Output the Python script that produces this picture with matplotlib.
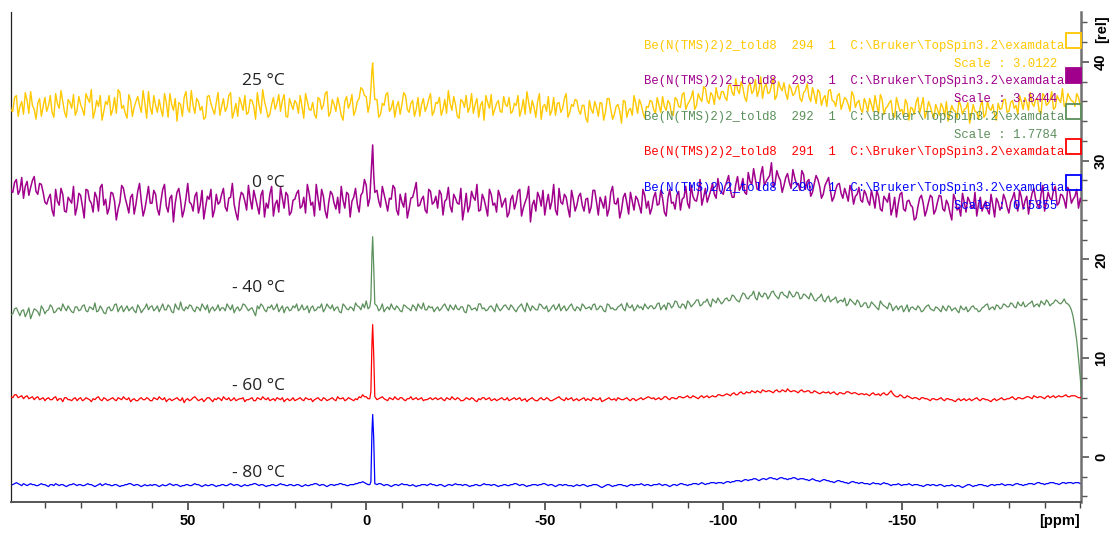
import numpy as np
import matplotlib
matplotlib.use("Agg")
import matplotlib.pyplot as plt
from matplotlib.ticker import MultipleLocator, FixedLocator, FixedFormatter
from matplotlib.patches import Rectangle
from matplotlib.font_manager import FontProperties

# ---------------- data ----------------
# chemical shift grid (ppm): whole ppm from 100 down to -201, plus half-ppm points 99.5 .. -200.5
ppm_start, ppm_stop = 100, -201

# intensities in tenths of the [rel] axis unit at whole-ppm points
yellow_25C = [
    362, 350, 366, 355, 347, 361, 370, 352, 358, 345, 364, 356, 349, 368, 353, 360, 344, 359, 367, 351,
    357, 346, 363, 372, 350, 355, 341, 360, 366, 352, 348, 369, 356, 343, 361, 354, 365, 349, 358, 370,
    347, 356, 362, 345, 359, 368, 351, 340, 357, 364, 353, 371, 348, 360, 355, 344, 366, 352, 359, 346,
    363, 354, 369, 350, 345, 358, 366, 349, 361, 342, 356, 372, 353, 347, 364, 358, 350, 367, 344, 357,
    361, 348, 355, 368, 352, 359, 343, 362, 356, 370, 349, 357, 364, 346, 360, 353, 367, 351, 363, 372,
    365, 358, 350, 362, 347, 356, 369, 353, 344, 360, 357, 366, 349, 361, 352, 345, 363, 355, 368, 350,
    358, 346, 362, 371, 351, 357, 343, 360, 366, 354, 348, 363, 356, 341, 359, 367, 352, 361, 349, 357,
    364, 350, 356, 345, 362, 370, 348, 354, 360, 342, 357, 365, 351, 346, 359, 353, 368, 349, 355, 361,
    347, 356, 339, 352, 360, 345, 358, 349, 363, 342, 355, 350, 361, 344, 353, 366, 348, 357, 343, 354,
    360, 348, 356, 365, 351, 358, 346, 362, 354, 369, 357, 364, 352, 368, 360, 373, 358, 366, 374, 362,
    370, 361, 377, 366, 372, 380, 364, 375, 368, 382, 371, 363, 378, 369, 384, 366, 374, 379, 362, 373,
    368, 377, 360, 371, 365, 374, 358, 369, 363, 355, 372, 360, 366, 352, 364, 357, 370, 354, 361, 349,
    358, 363, 350, 356, 367, 347, 355, 361, 344, 357, 352, 362, 341, 353, 359, 348, 364, 350, 355, 343,
    352, 358, 345, 340, 356, 350, 361, 347, 353, 338, 357, 349, 355, 344, 360, 351, 346, 358, 353, 362,
    350, 361, 356, 366, 352, 359, 369, 355, 363, 348, 365, 358, 370, 354, 362, 373, 357, 364, 360, 368,
    356, 362,
]
yellow_25C_half = [
    351, 364, 345, 360, 369, 348, 356, 342, 363, 355, 350, 366, 344, 358, 371, 349, 362, 353, 346, 365,
    352, 368, 359, 343, 361, 366, 350, 357, 346, 364, 372, 353, 348, 367, 345, 360, 356, 371, 343, 354,
    366, 349, 352, 368, 344, 357, 363, 359, 345, 370, 349, 356, 363, 351, 342, 365, 358, 347, 369, 355,
    350, 366, 343, 358, 364, 351, 347, 362, 355, 369, 348, 360, 344, 357, 352, 367, 361, 345, 363, 352,
    358, 366, 343, 360, 351, 347, 364, 352, 368, 345, 362, 350, 356, 341, 365, 358, 346, 360, 374, 366,
    349, 364, 356, 344, 358, 367, 350, 361, 355, 347, 369, 352, 358, 345, 364, 357, 350, 362, 346, 359,
    364, 352, 348, 358, 365, 345, 362, 354, 349, 368, 357, 344, 360, 366, 353, 346, 358, 350, 365, 355,
    348, 358, 366, 352, 347, 359, 361, 344, 368, 355, 350, 346, 364, 358, 349, 363, 344, 357, 362, 351,
    356, 343, 361, 348, 354, 359, 341, 363, 352, 347, 357, 338, 360, 351, 346, 358, 362, 349, 355, 361,
    352, 364, 349, 355, 361, 347, 364, 355, 367, 352, 360, 371, 356, 363, 375, 361, 369, 357, 365, 370,
    364, 376, 369, 383, 368, 374, 360, 379, 371, 365, 385, 374, 368, 376, 362, 380, 371, 368, 377, 366,
    374, 363, 369, 378, 360, 367, 372, 356, 366, 371, 361, 355, 368, 358, 362, 350, 366, 359, 352, 363,
    350, 357, 366, 348, 362, 353, 359, 346, 364, 350, 345, 358, 354, 347, 364, 356, 343, 360, 348, 357,
    346, 354, 360, 348, 351, 343, 356, 352, 359, 346, 350, 342, 361, 347, 353, 357, 341, 352, 362, 349,
    359, 353, 347, 360, 364, 351, 358, 362, 350, 368, 356, 361, 352, 366, 359, 355, 368, 361, 355, 364,
    358,
]

purple_0C = [
    275, 268, 281, 270, 262, 279, 273, 284, 266, 276, 258, 262, 250, 271, 255, 266, 248, 260, 274, 253,
    265, 242, 270, 257, 268, 249, 276, 261, 252, 267, 240, 258, 272, 255, 263, 246, 269, 259, 251, 274,
    257, 266, 245, 271, 254, 262, 238, 268, 260, 250, 277, 256, 264, 247, 270, 253, 261, 243, 266, 258,
    272, 249, 263, 256, 240, 268, 259, 275, 251, 262, 246, 270, 257, 266, 244, 260, 273, 252, 265, 248,
    261, 270, 254, 247, 267, 258, 276, 250, 264, 242, 269, 257, 263, 274, 252, 266, 259, 272, 248, 268,
    275, 262, 256, 270, 253, 266, 249, 261, 272, 245, 258, 267, 251, 263, 278, 255, 264, 247, 269, 258,
    252, 266, 259, 273, 248, 262, 256, 240, 267, 254, 263, 276, 250, 261, 244, 266, 257, 270, 253, 262,
    247, 265, 258, 271, 252, 263, 238, 260, 268, 254, 245, 266, 259, 250, 272, 256, 263, 243, 261, 255,
    267, 249, 262, 253, 270, 245, 258, 264, 251, 274, 256, 242, 263, 257, 268, 250, 261, 247, 265, 259,
    252, 268, 256, 262, 244, 271, 258, 265, 250, 263, 257, 275, 260, 268, 255, 272, 264, 277, 262, 270,
    266, 279, 270, 263, 284, 274, 268, 288, 276, 281, 271, 294, 279, 285, 273, 290, 280, 275, 287, 272,
    283, 277, 290, 271, 281, 268, 285, 274, 266, 279, 270, 263, 276, 267, 272, 259, 269, 264, 273, 258,
    266, 255, 262, 270, 251, 264, 258, 245, 263, 256, 268, 249, 260, 253, 242, 262, 257, 250, 265, 246,
    258, 264, 249, 256, 240, 261, 253, 267, 248, 259, 252, 244, 263, 255, 250, 266, 243, 258, 254, 261,
    247, 262, 256, 270, 251, 264, 258, 272, 255, 266, 249, 268, 260, 274, 257, 265, 252, 269, 261, 271,
    262, 250,
]
purple_0C_half = [
    270, 278, 266, 283, 274, 265, 280, 269, 277, 268, 256, 266, 244, 259, 272, 249, 263, 257, 245, 267,
    254, 271, 260, 248, 263, 273, 255, 246, 268, 259, 251, 275, 262, 247, 266, 256, 277, 244, 262, 257,
    270, 251, 259, 276, 248, 265, 257, 272, 243, 262, 258, 249, 268, 255, 241, 264, 271, 250, 256, 266,
    253, 262, 277, 247, 259, 266, 250, 261, 270, 254, 265, 243, 252, 274, 256, 248, 262, 268, 245, 260,
    267, 252, 263, 276, 255, 244, 262, 271, 249, 258, 266, 251, 247, 260, 268, 243, 263, 256, 265, 281,
    254, 269, 247, 259, 274, 258, 262, 275, 250, 266, 253, 242, 262, 270, 254, 261, 250, 271, 256, 264,
    270, 245, 261, 254, 266, 257, 272, 252, 248, 269, 260, 249, 266, 253, 271, 255, 248, 264, 258, 243,
    261, 251, 269, 244, 258, 274, 255, 249, 263, 270, 257, 251, 276, 245, 258, 266, 252, 270, 249, 264,
    255, 261, 247, 270, 258, 263, 252, 244, 268, 257, 262, 250, 267, 246, 259, 264, 254, 271, 252, 246,
    263, 255, 270, 248, 262, 257, 251, 269, 261, 274, 252, 264, 259, 281, 263, 258, 270, 266, 282, 268,
    274, 285, 263, 276, 270, 282, 266, 279, 292, 271, 286, 275, 282, 298, 277, 284, 268, 283, 278, 291,
    276, 270, 286, 279, 264, 277, 281, 262, 275, 283, 259, 271, 277, 262, 266, 275, 256, 266, 260, 270,
    259, 270, 252, 264, 249, 261, 267, 252, 243, 266, 251, 259, 255, 240, 253, 265, 244, 258, 263, 250,
    265, 251, 260, 247, 266, 250, 244, 258, 263, 253, 268, 256, 249, 259, 246, 255, 262, 250, 266, 253,
    258, 268, 249, 263, 259, 246, 267, 261, 252, 275, 258, 262, 270, 255, 266, 260, 273, 257, 264, 252,
    256,
]

green_m40C = [
    148, 145, 151, 143, 149, 146, 140, 150, 147, 153, 145, 149, 152, 147, 151, 155, 148, 150, 146, 152,
    149, 154, 147, 151, 156, 148, 150, 145, 152, 149, 155, 151, 147, 153, 150, 148, 154, 146, 151, 149,
    153, 150, 147, 155, 149, 152, 146, 151, 157, 148, 150, 153, 147, 151, 155, 149, 146, 152, 150, 148,
    151, 155, 149, 146, 152, 150, 154, 148, 151, 143, 150, 153, 147, 151, 149, 155, 150, 146, 152, 149,
    151, 148, 154, 150, 146, 153, 149, 151, 147, 155, 150, 148, 152, 146, 153, 149, 151, 156, 152, 155,
    158, 152, 149, 153, 150, 147, 152, 155, 149, 151, 147, 153, 150, 154, 148, 152, 156, 149, 151, 147,
    152, 150, 155, 148, 151, 154, 149, 152, 146, 153, 150, 148, 155, 151, 149, 153, 147, 151, 150, 154,
    149, 152, 147, 153, 150, 156, 148, 151, 149, 154, 150, 147, 152, 149, 155, 151, 148, 153, 150, 152,
    148, 153, 151, 149, 155, 150, 152, 147, 154, 151, 149, 153, 150, 156, 151, 148, 154, 152, 155, 150,
    153, 151, 156, 152, 149, 155, 153, 157, 151, 154, 158, 152, 156, 159, 154, 157, 155, 160, 156, 158,
    157, 161, 159, 163, 158, 162, 165, 160, 164, 161, 167, 162, 165, 163, 168, 162, 166, 164, 161, 165,
    163, 166, 161, 164, 160, 163, 158, 162, 159, 161, 157, 160, 156, 159, 161, 155, 158, 154, 157, 153,
    156, 152, 155, 151, 158, 153, 150, 154, 151, 149, 153, 150, 147, 152, 149, 151, 148, 153, 150, 148,
    151, 147, 150, 153, 148, 151, 146, 150, 152, 149, 153, 150, 148, 152, 155, 151, 149, 153, 151, 154,
    152, 155, 151, 154, 157, 153, 156, 152, 155, 158, 154, 157, 155, 159, 156, 157, 156, 153, 142, 118,
    80, 30,
]
green_m40C_half = [
    144, 150, 147, 148, 142, 151, 145, 149, 143, 150, 148, 154, 146, 150, 148, 151, 153, 147, 152, 148,
    153, 148, 152, 149, 147, 153, 146, 151, 148, 154, 147, 153, 150, 148, 152, 146, 151, 149, 155, 152,
    148, 153, 151, 149, 154, 147, 155, 149, 150, 152, 154, 149, 152, 148, 152, 154, 150, 148, 154, 151,
    148, 152, 154, 150, 148, 155, 151, 150, 147, 153, 155, 149, 152, 154, 151, 147, 153, 151, 148, 153,
    155, 150, 149, 153, 151, 148, 152, 155, 150, 152, 154, 151, 147, 155, 150, 152, 148, 153, 149, 151,
    150, 154, 152, 148, 155, 150, 149, 151, 153, 148, 154, 151, 148, 152, 155, 150, 149, 153, 152, 150,
    148, 153, 151, 154, 149, 150, 152, 147, 154, 149, 151, 155, 150, 148, 152, 150, 155, 148, 153, 151,
    154, 149, 151, 155, 147, 152, 153, 149, 155, 151, 153, 149, 154, 151, 148, 153, 150, 155, 148, 151,
    155, 150, 152, 154, 149, 153, 148, 155, 150, 149, 152, 155, 148, 152, 154, 150, 151, 149, 152, 153,
    150, 155, 149, 154, 156, 151, 158, 152, 155, 150, 156, 154, 159, 153, 157, 160, 152, 158, 161, 155,
    160, 158, 164, 160, 157, 166, 161, 163, 168, 159, 163, 166, 160, 167, 164, 160, 167, 163, 168, 162,
    167, 160, 165, 162, 166, 159, 161, 165, 157, 163, 159, 162, 158, 157, 153, 160, 156, 159, 152, 156,
    151, 157, 153, 149, 155, 152, 156, 148, 153, 152, 147, 154, 151, 150, 153, 147, 151, 154, 149, 152,
    149, 153, 148, 152, 150, 148, 153, 149, 147, 152, 150, 147, 151, 154, 149, 152, 154, 150, 155, 152,
    156, 152, 157, 153, 152, 155, 158, 154, 152, 156, 159, 153, 156, 158, 155, 160, 155, 149, 131, 100,
    55,
]

red_m60C = [
    62, 60, 63, 61, 59, 62, 60, 58, 61, 59, 57, 60, 58, 61, 59, 56, 60, 58, 59, 57,
    60, 58, 59, 56, 58, 61, 57, 59, 58, 60, 57, 59, 61, 58, 56, 59, 57, 60, 58, 59,
    57, 59, 61, 58, 56, 59, 58, 60, 57, 55, 59, 58, 61, 57, 59, 58, 60, 56, 58, 59,
    61, 58, 57, 60, 58, 59, 56, 58, 60, 57, 59, 61, 58, 57, 59, 60, 58, 56, 59, 58,
    57, 59, 58, 60, 58, 56, 59, 58, 60, 57, 59, 58, 61, 59, 57, 60, 58, 59, 61, 63,
    61, 59, 61, 58, 60, 59, 57, 59, 61, 58, 60, 57, 59, 58, 60, 59, 57, 58, 60, 59,
    58, 60, 57, 59, 61, 58, 59, 57, 60, 58, 59, 56, 58, 60, 59, 57, 59, 58, 60, 58,
    57, 59, 58, 60, 58, 56, 59, 58, 57, 60, 58, 59, 57, 59, 61, 58, 60, 59, 57, 59,
    58, 60, 59, 57, 59, 58, 56, 58, 60, 58, 57, 59, 58, 60, 57, 59, 58, 60, 59, 61,
    59, 58, 60, 59, 61, 58, 60, 59, 61, 60, 62, 60, 61, 59, 62, 61, 60, 62, 61, 63,
    62, 64, 62, 65, 63, 66, 64, 65, 67, 65, 66, 68, 66, 67, 65, 68, 66, 67, 69, 66,
    67, 65, 68, 66, 67, 65, 66, 64, 66, 65, 64, 66, 63, 65, 64, 66, 64, 65, 63, 64,
    64, 62, 65, 63, 62, 65, 63, 67, 62, 61, 62, 60, 61, 59, 60, 58, 60, 59, 57, 59,
    58, 60, 57, 59, 58, 56, 59, 58, 57, 59, 58, 60, 57, 59, 58, 56, 59, 58, 60, 58,
    59, 61, 58, 60, 59, 61, 60, 62, 60, 61, 59, 62, 61, 60, 62, 61, 63, 61, 62, 61,
    60, 61,
]
red_m60C_half = [
    61, 63, 60, 62, 61, 59, 61, 60, 58, 60, 59, 58, 60, 57, 59, 60, 58, 57, 60, 59,
    57, 60, 58, 59, 60, 58, 60, 57, 59, 58, 60, 58, 59, 60, 58, 57, 59, 58, 60, 57,
    60, 58, 59, 60, 58, 57, 59, 58, 60, 58, 57, 60, 59, 58, 56, 60, 58, 59, 60, 57,
    59, 60, 58, 57, 59, 60, 58, 59, 57, 60, 58, 59, 60, 58, 57, 59, 60, 58, 57, 60,
    58, 60, 57, 59, 59, 58, 60, 57, 59, 58, 60, 57, 59, 60, 58, 59, 57, 58, 60, 61,
    59, 60, 58, 59, 61, 58, 60, 58, 59, 60, 58, 59, 61, 59, 58, 60, 58, 59, 58, 60,
    59, 58, 60, 58, 59, 60, 57, 58, 59, 60, 57, 59, 60, 58, 60, 58, 57, 59, 58, 60,
    58, 60, 59, 57, 59, 58, 60, 57, 59, 58, 60, 57, 58, 60, 59, 57, 58, 60, 58, 57,
    59, 57, 58, 60, 58, 60, 57, 59, 58, 59, 60, 58, 59, 58, 59, 57, 59, 58, 60, 60,
    60, 59, 58, 61, 59, 60, 59, 61, 60, 61, 60, 62, 60, 61, 60, 62, 61, 61, 63, 62,
    63, 63, 64, 63, 65, 64, 66, 65, 66, 67, 65, 67, 67, 66, 67, 66, 68, 66, 67, 67,
    66, 67, 66, 67, 65, 67, 65, 65, 65, 66, 65, 64, 65, 64, 66, 65, 65, 64, 64, 63,
    63, 64, 63, 64, 64, 63, 65, 64, 61, 63, 60, 62, 60, 60, 59, 60, 59, 58, 59, 58,
    59, 58, 59, 58, 57, 58, 57, 59, 58, 57, 59, 58, 59, 58, 57, 58, 57, 59, 58, 59,
    60, 59, 60, 59, 60, 61, 59, 61, 61, 60, 61, 60, 62, 61, 61, 62, 61, 62, 62, 60,
    61,
]

blue_m80C = [
    -27, -28, -26, -28, -27, -29, -27, -28, -29, -27, -28, -30, -28, -27, -29, -28, -30, -28, -27, -29,
    -28, -29, -27, -28, -30, -28, -29, -27, -28, -29, -28, -30, -29, -28, -27, -29, -28, -30, -28, -29,
    -29, -28, -30, -28, -29, -27, -29, -28, -30, -29, -28, -29, -27, -28, -30, -28, -29, -28, -30, -29,
    -28, -29, -27, -29, -28, -30, -28, -29, -28, -27, -29, -28, -30, -29, -28, -29, -27, -28, -29, -28,
    -29, -28, -30, -28, -29, -28, -27, -29, -28, -30, -28, -29, -28, -27, -28, -29, -28, -27, -26, -25,
    -27, -28, -29, -28, -27, -29, -28, -30, -28, -29, -27, -28, -29, -28, -30, -29, -28, -29, -27, -28,
    -29, -28, -30, -28, -29, -27, -28, -29, -28, -30, -29, -28, -29, -27, -28, -29, -28, -30, -29, -28,
    -29, -28, -27, -29, -28, -30, -29, -28, -29, -28, -27, -29, -28, -30, -28, -29, -28, -29, -30, -28,
    -29, -28, -30, -29, -28, -29, -31, -29, -28, -30, -29, -28, -29, -30, -28, -29, -28, -27, -29, -28,
    -29, -28, -27, -29, -28, -30, -28, -29, -27, -28, -29, -28, -27, -28, -26, -28, -27, -26, -27, -26,
    -27, -25, -26, -25, -24, -25, -23, -24, -23, -22, -24, -22, -23, -21, -22, -23, -21, -22, -23, -22,
    -21, -23, -22, -23, -24, -22, -24, -25, -23, -24, -25, -26, -24, -25, -26, -27, -25, -26, -27, -26,
    -27, -28, -26, -27, -28, -26, -27, -29, -28, -27, -29, -28, -27, -29, -28, -29, -30, -28, -29, -28,
    -29, -28, -30, -29, -28, -30, -29, -31, -29, -28, -30, -29, -28, -29, -30, -28, -29, -28, -27, -29,
    -28, -29, -27, -28, -29, -28, -27, -28, -26, -27, -28, -27, -26, -27, -28, -26, -27, -26, -27, -26,
    -27, -27,
]
blue_m80C_half = [
    -28, -27, -27, -29, -28, -28, -28, -29, -28, -28, -29, -28, -29, -28, -28, -29, -29, -28, -28, -28,
    -29, -28, -28, -29, -29, -27, -28, -28, -29, -28, -29, -29, -28, -27, -28, -28, -29, -29, -29, -28,
    -28, -29, -29, -29, -28, -28, -28, -29, -29, -28, -29, -28, -28, -29, -29, -29, -28, -29, -29, -28,
    -29, -28, -28, -28, -29, -29, -29, -28, -27, -28, -28, -29, -29, -28, -29, -28, -28, -29, -28, -29,
    -28, -29, -29, -29, -28, -27, -28, -28, -29, -29, -28, -28, -27, -28, -29, -28, -28, -27, -26, -26,
    -28, -28, -28, -27, -28, -28, -29, -29, -28, -28, -28, -28, -29, -29, -29, -28, -28, -28, -28, -29,
    -28, -29, -29, -28, -28, -28, -28, -28, -29, -29, -28, -29, -28, -28, -28, -28, -29, -29, -28, -29,
    -28, -27, -28, -28, -29, -29, -28, -28, -28, -27, -28, -28, -29, -29, -28, -28, -29, -29, -29, -29,
    -28, -29, -29, -28, -28, -30, -30, -28, -29, -29, -28, -28, -29, -29, -28, -28, -28, -28, -28, -29,
    -28, -28, -28, -28, -29, -29, -28, -28, -27, -28, -28, -27, -27, -27, -27, -27, -26, -26, -26, -26,
    -26, -25, -25, -24, -24, -24, -23, -23, -22, -23, -23, -22, -22, -21, -22, -22, -21, -22, -22, -21,
    -22, -22, -22, -23, -23, -23, -24, -24, -23, -24, -25, -25, -24, -25, -26, -26, -25, -26, -26, -27,
    -27, -27, -27, -27, -27, -27, -28, -28, -28, -28, -28, -28, -28, -28, -28, -29, -29, -28, -28, -29,
    -28, -29, -29, -29, -29, -29, -30, -30, -28, -29, -29, -28, -28, -29, -29, -28, -28, -28, -28, -28,
    -28, -28, -27, -28, -28, -27, -27, -27, -26, -27, -27, -26, -26, -27, -27, -26, -26, -26, -26, -26,
    -27,
]

# sharp signal near -1.8 ppm (tenths of [rel])
peak_ppm = [-1.3, -1.6, -1.8, -2.1, -2.4]
peak_yellow = [372, 392, 399, 378, 362]
peak_purple = [283, 305, 316, 285, 268]
peak_green = [160, 205, 223, 192, 155]
peak_red = [66, 115, 134, 103, 61]
peak_blue = [-25, 25, 43, 18, -27]

temps = ["25 °C", "0 °C", "- 40 °C", "- 60 °C", "- 80 °C"]
exp_names = ["Be(N(TMS)2)2_told8"] * 5
exp_nos = [294, 293, 292, 291, 290]
scales = ["3.0122", "3.8444", "1.7784", None, "0.5355"]
path = "C:\\Bruker\\TopSpin3.2\\examdata"
colors = ["#FFC800", "#A0008C", "#5B8F5B", "#FF0000", "#0000FF"]
box_filled = [False, True, False, False, False]

xtick_vals = [50, 0, -50, -100, -150]
xtick_labels = ["50", "0", "-50", "-100", "-150"]
ytick_vals = [0, 10, 20, 30, 40]

# ---------------- figure ----------------
W, H = 1112, 533
fig = plt.figure(figsize=(W / 100, H / 100), dpi=100)
fig.patch.set_facecolor("white")

L, R, T, B = 11, 1081, 12, 502
ax = fig.add_axes([L / W, 1 - B / H, (R - L) / W, (B - T) / H])
ax.set_xlim(99.5, -200.2)
ax.set_ylim(-4.56, 45.06)

grid = np.arange(ppm_start, ppm_stop - 1, -1).astype(float)
half_grid = grid[:-1] - 0.5


def build(vals, half, pk):
    x = np.concatenate([grid, half_grid])
    y = np.concatenate([np.asarray(vals, float), np.asarray(half, float)]) / 10.0
    keep = ~((x < max(peak_ppm) + 0.2) & (x > min(peak_ppm) - 0.2))
    x = np.concatenate([x[keep], peak_ppm])
    y = np.concatenate([y[keep], np.asarray(pk, float) / 10.0])
    order = np.argsort(-x)
    return x[order], y[order]


series = [(yellow_25C, yellow_25C_half, peak_yellow),
          (purple_0C, purple_0C_half, peak_purple),
          (green_m40C, green_m40C_half, peak_green),
          (red_m60C, red_m60C_half, peak_red),
          (blue_m80C, blue_m80C_half, peak_blue)]
zs = [6, 5, 4, 3, 2]
lws = [1.0, 1.1, 0.9, 0.9, 0.9]
for (vals, half, pk), c, z, lw in zip(series, colors, zs, lws):
    x, y = build(vals, half, pk)
    ax.plot(x, y, color=c, lw=lw, zorder=z)

# spines
ax.spines["top"].set_visible(False)
ax.spines["left"].set_color("#222222")
ax.spines["left"].set_linewidth(0.9)
ax.spines["bottom"].set_color("#555555")
ax.spines["bottom"].set_linewidth(1.4)
ax.spines["right"].set_color("#707070")
ax.spines["right"].set_linewidth(1.8)

tick_font = dict(family=["Liberation Sans Narrow", "Liberation Sans", "DejaVu Sans"],
                 weight="bold", size=10.5)

ax.xaxis.set_major_locator(FixedLocator(xtick_vals))
ax.xaxis.set_major_formatter(FixedFormatter(xtick_labels))
ax.xaxis.set_minor_locator(MultipleLocator(10))
ax.tick_params(axis="x", which="major", direction="out", length=6, width=1.2,
               color="#444444", pad=2.5)
ax.tick_params(axis="x", which="minor", direction="out", length=4.5, width=1.0, color="#444444")
for lab in ax.get_xticklabels():
    lab.set_fontproperties(FontProperties(**tick_font))

ax.yaxis.tick_right()
ax.yaxis.set_major_locator(FixedLocator(ytick_vals))
ax.yaxis.set_major_formatter(FixedFormatter([str(v) for v in ytick_vals]))
ax.yaxis.set_minor_locator(MultipleLocator(2))
ax.tick_params(axis="y", which="major", direction="out", length=6, width=1.2,
               color="#555555", pad=3.5, left=False, right=True)
ax.tick_params(axis="y", which="minor", direction="out", length=4, width=1.0,
               color="#555555", left=False, right=True)
for lab in ax.get_yticklabels():
    lab.set_fontproperties(FontProperties(**tick_font))
    lab.set_rotation(90)
    lab.set_va("center")


def fx(px):
    return px / W


def fy(py):
    return 1 - py / H


fig.text(fx(1059), fy(521), "[ppm]", ha="center", va="center", **tick_font)
fig.text(fx(1102), fy(29), "[rel]", ha="center", va="center", rotation=90, **tick_font)

# temperature labels
temp_y = [81, 183, 288, 386, 473]
for t, ty in zip(temps, temp_y):
    fig.text(fx(285), fy(ty), t, ha="right", va="center",
             family=["Open Sans", "DejaVu Sans"], size=12.5, color="#222222")

# TopSpin legend
mono = dict(family=["Liberation Mono", "DejaVu Sans Mono"], size=8.8)
legend_y = [46, 81, 117, 152, 188]
box_top = [33, 68, 104, 139, 175]
for name, no, sc, c, ly, bt, filled in zip(exp_names, exp_nos, scales, colors,
                                            legend_y, box_top, box_filled):
    fig.text(fx(1064), fy(ly), f"{name}  {no}  1  {path}", ha="right", va="center",
             color=c, zorder=10, **mono)
    if sc is not None:
        fig.text(fx(1057), fy(ly + 18), f"Scale : {sc}", ha="right", va="center",
                 color=c, zorder=10, **mono)
    rect = Rectangle((fx(1066), fy(bt + 15)), 15 / W, 15 / H, transform=fig.transFigure,
                     facecolor=c if filled else "none", edgecolor=c, lw=1.3, zorder=10)
    fig.patches.append(rect)

fig.savefig("out.png", dpi=100)
